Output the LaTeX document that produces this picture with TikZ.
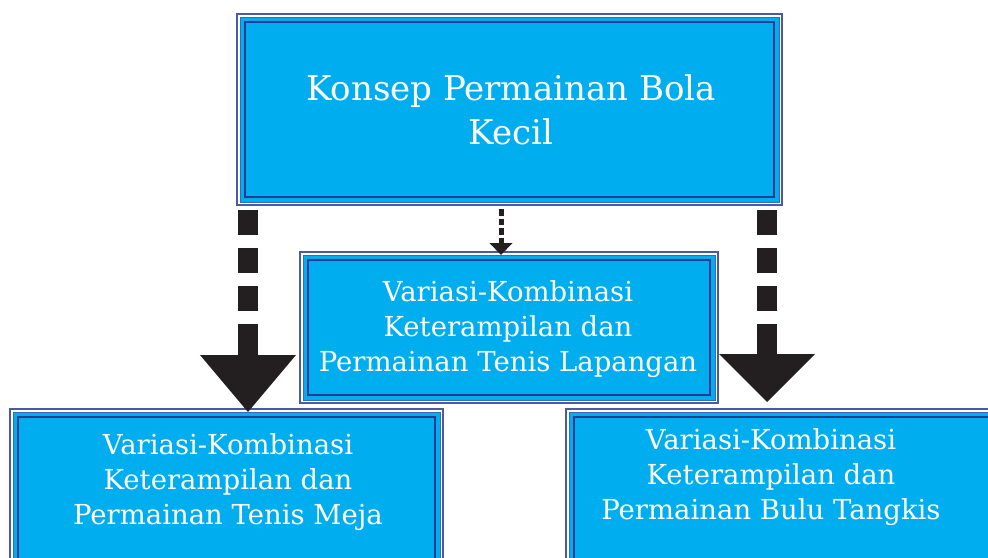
\documentclass[tikz,border=0pt]{standalone}
\usepackage{fontspec}
\setmainfont{DejaVu Serif}
\usetikzlibrary{arrows.meta}
\definecolor{boxcyan}{RGB}{0,174,239}
\definecolor{edgeblue}{RGB}{55,105,190}
\definecolor{frameblue}{RGB}{75,90,165}
\definecolor{darkline}{RGB}{35,60,150}
\definecolor{arrowblack}{RGB}{35,31,32}
\begin{document}
\begin{tikzpicture}[x=1pt,y=-1pt,
  boxfill/.style={fill=boxcyan,draw=edgeblue,line width=1pt,inner sep=0pt,outer sep=0pt},
  outerframe/.style={draw=frameblue,line width=1.1pt},
  innerline/.style={draw=darkline,line width=1.6pt},
  boxtext/.style={text=white,align=center,inner sep=0pt},
  bigtext/.style={font=\fontsize{34}{44}\selectfont},
  smalltext/.style={font=\fontsize{27.5}{35}\selectfont},
  bigarrow/.style={draw=arrowblack,line width=20pt,
    dash pattern=on 25pt off 13pt on 25pt off 13pt on 25pt off 13pt on 80pt},
  leftarrowhead/.style={-{Triangle[width=96pt,length=57pt,line width=0pt]}},
  rightarrowhead/.style={-{Triangle[width=96pt,length=48pt,line width=0pt]}},
  smallarrow/.style={draw=arrowblack,line width=5pt,dash pattern=on 6.5pt off 3pt,
    -{Triangle[width=23pt,length=12pt,line width=0pt]}}
]
\useasboundingbox (0,0) rectangle (988,557);
\clip (0,0) rectangle (988,557);

% top box
\node[boxfill,minimum width=539pt,minimum height=185pt] (topbox) at (509.5,109.5) {};
\draw[outerframe] ([shift={(-3,-3)}]topbox.north west) rectangle ([shift={(3,3)}]topbox.south east);
\draw[innerline] ([shift={(5,5)}]topbox.north west) rectangle ([shift={(-5,-5)}]topbox.south east);
\node[boxtext,bigtext] (toptext) at (511,110) {Konsep Permainan Bola\\Kecil};

% middle box
\node[boxfill,minimum width=412pt,minimum height=145pt] (midbox) at (509,327.5) {};
\draw[outerframe] ([shift={(-3,-3)}]midbox.north west) rectangle ([shift={(3,3)}]midbox.south east);
\draw[innerline] ([shift={(5,5)}]midbox.north west) rectangle ([shift={(-5,-5)}]midbox.south east);
\node[boxtext,smalltext] (midtext) at (508,329) {Variasi-Kombinasi\\Keterampilan dan\\Permainan Tenis Lapangan};

% bottom left box
\node[boxfill,minimum width=427pt,minimum height=160pt] (blbox) at (226.5,492) {};
\draw[outerframe] ([shift={(-3,-3)}]blbox.north west) rectangle ([shift={(3,3)}]blbox.south east);
\draw[innerline] ([shift={(5,5)}]blbox.north west) rectangle ([shift={(-5,-5)}]blbox.south east);
\node[boxtext,smalltext] (bltext) at (228,482.5) {Variasi-Kombinasi\\Keterampilan dan\\Permainan Tenis Meja};

% bottom right box
\node[boxfill,minimum width=431pt,minimum height=160pt] (brbox) at (784.5,492) {};
\draw[outerframe] ([shift={(-3,-3)}]brbox.north west) rectangle ([shift={(3,3)}]brbox.south east);
\draw[innerline] ([shift={(5,5)}]brbox.north west) rectangle ([shift={(-5,-5)}]brbox.south east);
\node[boxtext,smalltext] (brtext) at (771,477.5) {Variasi-Kombinasi\\Keterampilan dan\\Permainan Bulu Tangkis};

% arrows
\coordinate (lx) at (248,0);
\coordinate (rx) at (767,0);
\coordinate (mx) at (501,0);
\draw[bigarrow,leftarrowhead,shorten <=8pt] (lx |- topbox.south) -- (lx |- blbox.north);
\draw[bigarrow,rightarrowhead,shorten <=8pt,shorten >=10pt] (rx |- topbox.south) -- (rx |- brbox.north);
\draw[smallarrow,shorten <=7pt] (mx |- topbox.south) -- (mx |- midbox.north);
\end{tikzpicture}
\end{document}
